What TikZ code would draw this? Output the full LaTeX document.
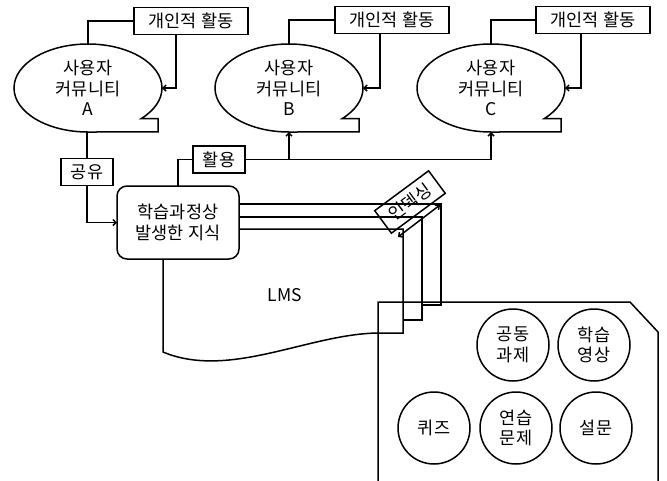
\documentclass[tikz,border=0pt]{standalone}
\usepackage{fontspec}
\setmainfont{Noto Sans CJK KR}
\usepackage{tikz}
\usetikzlibrary{arrows.meta}
\usetikzlibrary{shapes.geometric}

\begin{document}
\begin{tikzpicture}[x=1pt,y=-1pt,line width=1.5pt,>={Straight Barb[length=3pt,width=6pt]},every node/.style={font=\fontsize{17.5}{20.5}\selectfont,align=center,inner sep=0pt,outer sep=0pt},comm/.style={ellipse,minimum width=148pt,minimum height=88pt},actbox/.style={draw,rectangle,minimum width=114pt,minimum height=27pt},tagbox/.style={draw,rectangle,minimum width=52pt,minimum height=27pt},knowbox/.style={draw,rectangle,rounded corners=10pt,minimum width=122pt,minimum height=73pt},itembox/.style={draw,circle,minimum size=72pt}]
	
	\useasboundingbox (0,0) rectangle (667,480);
	
	\node[comm] (comA) at (88,88) {사용자\\커뮤니티\\A};
	\node[comm] (comB) at (289,88) {사용자\\커뮤니티\\B};
	\node[comm] (comC) at (491,88) {사용자\\커뮤니티\\C};
	\draw (comA.south) arc[start angle=90,end angle=404,x radius=74,y radius=44] -- ++(17,0) -- ++(0,13.4) -- cycle;
	\draw (comB.south) arc[start angle=90,end angle=404,x radius=74,y radius=44] -- ++(17,0) -- ++(0,13.4) -- cycle;
	\draw (comC.south) arc[start angle=90,end angle=404,x radius=74,y radius=44] -- ++(17,0) -- ++(0,13.4) -- cycle;
	
	\node[actbox] (actA) at (191,21) {개인적 활동};
	\node[actbox] (actB) at (392,20) {개인적 활동};
	\node[actbox] (actC) at (593,20) {개인적 활동};
	\draw (actA.west) -| (comA.north);
	\draw (actB.west) -| (comB.north);
	\draw (actC.west) -| (comC.north);
	\draw[->] ([xshift=-15pt]actA.south) |- (comA.east);
	\draw[->] ([xshift=-12pt]actB.south) |- (comB.east);
	\draw[->] ([xshift=-12pt]actC.south) |- (comC.east);
	
	\node[tagbox] (share) at (87,172) {공유};
	\node[knowbox] (know) at (178,222.5) {학습과정상\\발생한 지식};
	\node[tagbox] (use) at (219,159.5) {활용};
	\draw (comA.south -| share.north) -- (share.north);
	\draw[->] (share.south) |- (know.west);
	\draw (know.north) |- (use.west);
	\draw[->] (use.east) -| (comC.south);
	\draw[->] (use.east -| comB.south) -- (comB.south);
	
	\coordinate (pageA) at (441,305);
	\coordinate (pageB) at (422,320);
	\coordinate (pageC) at (403,333);
	\coordinate (wave) at (163,352);
	\draw (know.east |- 0,204) -| (pageA) -- (pageB |- pageA);
	\draw (know.east |- 0,217) -| (pageB) -- (pageC |- pageB);
	\draw (know.east |- 0,229) -| (pageC) -- (380,333) .. controls (310,333) and (230,380) .. (wave) -- (wave |- know.south);
	\node (lms) at (285,295) {LMS};
	
	\node[draw,rectangle,rotate=36.5,minimum width=67pt,minimum height=28pt] (index) at (410,202) {인덱싱};
	\coordinate (idxA) at (398,237);
	\coordinate (idxB) at (440,205);
	\draw[<->] (idxA) -- (idxB);
	
	\draw (378,482) -- (378,302) -- (630,302) -- (658,332) -- (658,482);
	\node[itembox] (task) at (513,345) {공동\\과제};
	\node[itembox] (video) at (594,345) {학습\\영상};
	\node[itembox] (quiz) at (434,428) {퀴즈};
	\node[itembox] (drill) at (516,428) {연습\\문제};
	\node[itembox] (survey) at (596,428) {설문};
	
\end{tikzpicture}
\end{document}
